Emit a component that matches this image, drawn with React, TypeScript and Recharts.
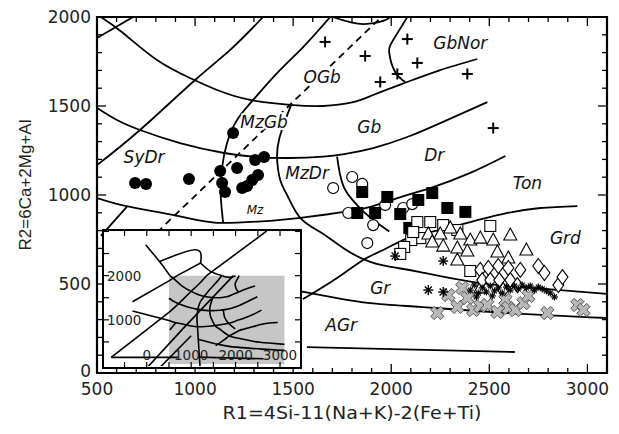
import { ComposedChart, Line, Scatter, XAxis, YAxis, ReferenceArea } from 'recharts'

// boundary curves, [R1, R2]
const curveA = [[520, 2000], [633, 1910], [806, 1758], [974, 1657], [1112, 1590], [1281, 1534], [1485, 1506], [1653, 1500], [1800, 1520], [1908, 1562], [2082, 1635], [2250, 1702], [2439, 1764]]
const curveB = [[500, 1489], [602, 1421], [719, 1365], [923, 1292], [1148, 1236], [1316, 1213], [1485, 1208], [1653, 1216], [1760, 1230], [1908, 1264], [2082, 1326], [2250, 1404], [2490, 1522]]
const curveTon = [[500, 983], [638, 940], [806, 905], [1000, 862], [1143, 843], [1383, 855], [1536, 871], [1724, 899], [1893, 933], [2031, 983], [2199, 1039], [2403, 1124], [2582, 1219]]
const curveMzGb = [[1689, 2000], [1551, 1831], [1418, 1685], [1296, 1534], [1214, 1421], [1163, 1292], [1138, 1157], [1130, 1028], [1135, 930], [1143, 843]]
const dashLine = [[806, 790], [1950, 2000]]
const diagLine = [[500, 1168], [719, 1365], [1000, 1646], [1179, 1815], [1347, 2000]]
const cornerLine = [[500, 1882], [684, 2000]]
const topArc = [[1700, 2000], [1800, 1968], [1877, 1961], [1959, 1978], [1995, 2000]]
const gbNorLine = [[2082, 2000], [2010, 1871], [1990, 1798], [2020, 1691], [2071, 1635]]
const mzDrLine = [[1490, 1506], [1460, 1420], [1430, 1320], [1418, 1213], [1434, 1084], [1469, 1000], [1536, 871], [1638, 792], [1755, 702], [1893, 624], [2031, 590], [2148, 567], [2418, 511], [2750, 475], [3100, 445]]
const drLine = [[1724, 1216], [1738, 1120], [1760, 1040], [1800, 975], [1860, 905], [1920, 850], [1990, 795]]
const grdLine = [[1550, 415], [1724, 534], [1857, 635], [1959, 691], [2082, 758], [2199, 792], [2403, 848], [2592, 899], [2760, 927], [2949, 938]]
const grLine = [[1540, 458], [1724, 421], [1893, 393], [2148, 371], [2592, 337], [3100, 309]]
const agrLine = [[1570, 145], [2630, 118]]
const stubLine = [[520, 770], [653, 935]]

// extra lines only visible in the inset
const insetExtra = [
  [[-800, 150], [500, 1168]],
  [[1347, 2000], [2700, 3010]],
  [[-800, 150], [700, 150]],
  [[-22, 2697], [314, 2285], [520, 2000]],
  [[-321, 1408], [500, 1882]],
  [[684, 2000], [1211, 2285]],
  [[290, 2320], [1099, 2584], [1211, 2285]],
  [[1211, 2285], [1435, 2097], [1700, 2000]],
  [[15, -75], [806, 790]],
  [[300, -75], [1000, 640]],
  [[1143, 843], [1170, 400], [1200, -75]],
  [[-321, 1200], [500, 983]],
  [[1540, 458], [1150, 560]],
  [[1570, 145], [1150, 160]],
]

// samples
const filledCircles = [[694, 1067], [750, 1062], [969, 1090], [1194, 1348], [1128, 1135], [1138, 1067], [1153, 1017], [1214, 1152], [1306, 1197], [1352, 1213], [1321, 1112], [1291, 1084], [1265, 1051], [1240, 1039]]
const plusPts = [[1663, 1860], [2082, 1876], [1867, 1781], [2133, 1742], [1944, 1635], [2031, 1680], [2388, 1680], [2520, 1376]]
const openCircles = [[1704, 1039], [1801, 1101], [1852, 1062], [1781, 899], [1908, 831], [1878, 730], [1969, 944], [2061, 927], [2107, 949]]
const filledSquares = [[1852, 1017], [1827, 899], [1918, 899], [1980, 989], [2046, 893], [2092, 815], [2138, 972], [2209, 1011], [2286, 927], [2378, 905]]
const openSquares = [[2133, 848], [2199, 848], [2265, 831], [2337, 803], [2505, 826], [2148, 758], [2102, 747], [2066, 708], [2046, 669], [2403, 573], [2112, 792]]
const triangles = [[2189, 781], [2250, 781], [2301, 815], [2352, 781], [2403, 747], [2454, 758], [2520, 747], [2607, 775], [2689, 691], [2337, 702], [2388, 685], [2337, 635], [2541, 680], [2597, 646], [2454, 478], [2209, 736], [2265, 713]]
const diamonds = [[2454, 579], [2495, 590], [2546, 601], [2597, 590], [2464, 522], [2505, 522], [2551, 522], [2607, 522], [2643, 494], [2750, 601], [2781, 562], [2852, 494], [2873, 539], [2571, 466], [2658, 579]]
const grayCrosses = [[2235, 337], [2291, 438], [2337, 371], [2362, 478], [2388, 421], [2418, 354], [2454, 376], [2490, 382], [2541, 343], [2582, 410], [2597, 365], [2633, 354], [2674, 393], [2699, 433], [2796, 337], [2949, 382], [2980, 354]]
const bigStars = [[2020, 657], [2265, 629], [2189, 466], [2265, 455]]
const smallStars = [[2403, 466], [2423, 494], [2444, 449], [2464, 478], [2485, 455], [2505, 489], [2526, 461], [2546, 478], [2566, 449], [2587, 483], [2607, 466], [2628, 489], [2648, 472], [2668, 494], [2689, 478], [2709, 489], [2730, 466], [2750, 483], [2770, 472], [2791, 461], [2811, 449], [2832, 427], [2434, 427], [2515, 433]]

const regionLabels = [
  { x: 2352, y: 1854, t: 'GbNor', s: 17 },
  { x: 1648, y: 1663, t: 'OGb', s: 17 },
  { x: 1352, y: 1410, t: 'MzGb', s: 17 },
  { x: 740, y: 1213, t: 'SyDr', s: 17 },
  { x: 1888, y: 1382, t: 'Gb', s: 17 },
  { x: 2219, y: 1225, t: 'Dr', s: 17 },
  { x: 2694, y: 1067, t: 'Ton', s: 17 },
  { x: 1571, y: 1124, t: 'MzDr', s: 17 },
  { x: 1306, y: 916, t: 'Mz', s: 12 },
  { x: 2888, y: 758, t: 'Grd', s: 17 },
  { x: 1944, y: 478, t: 'Gr', s: 17 },
  { x: 1745, y: 270, t: 'AGr', s: 17 },
]

const xTicks = [500, 600, 700, 800, 900, 1000, 1100, 1200, 1300, 1400, 1500, 1600, 1700, 1800, 1900, 2000, 2100, 2200, 2300, 2400, 2500, 2600, 2700, 2800, 2900, 3000, 3100]
const yTicks = [0, 100, 200, 300, 400, 500, 600, 700, 800, 900, 1000, 1100, 1200, 1300, 1400, 1500, 1600, 1700, 1800, 1900, 2000]
const insetXTicks = [-500, 0, 500, 1000, 1500, 2000, 2500, 3000]
const insetYTicks = [500, 1000, 1500, 2000, 2500, 3000]
const insetXLabels = [0, 1000, 2000, 3000]
const insetYLabels = [1000, 2000]

const pts = (a: number[][]) => a.map(([x, y]) => ({ x, y }))

const FONT = '"DejaVu Sans", sans-serif'
const W = 611, H = 426
const PT = 9, PR = 599

const mainLines = [curveA, curveB, curveTon, curveMzGb, diagLine, cornerLine, topArc, gbNorLine, mzDrLine, drLine, grdLine, grLine, agrLine, stubLine]

const XTick = (p: any) => {
  const v = p.payload.value
  const major = v % 500 === 0
  const len = major ? 9 : 5
  return (
    <g>
      <line x1={p.x} x2={p.x} y1={p.y} y2={p.y - len} stroke="#000" strokeWidth={1.3} />
      <line x1={p.x} x2={p.x} y1={PT} y2={PT + len} stroke="#000" strokeWidth={1.3} />
      {major && <text x={p.x} y={p.y + 22} textAnchor="middle" fontSize={17} fontFamily={FONT} fill="#222">{v}</text>}
    </g>
  )
}

const YTick = (p: any) => {
  const v = p.payload.value
  const major = v % 500 === 0
  const len = major ? 9 : 5
  return (
    <g>
      <line x1={p.x} x2={p.x + len} y1={p.y} y2={p.y} stroke="#000" strokeWidth={1.3} />
      <line x1={PR} x2={PR - len} y1={p.y} y2={p.y} stroke="#000" strokeWidth={1.3} />
      {major && <text x={p.x - 6} y={p.y + (v === 0 ? 4 : 6)} textAnchor="end" fontSize={17} fontFamily={FONT} fill="#222">{v}</text>}
    </g>
  )
}

const IW = 196, IH = 136

const InsetXTick = (p: any) => {
  const v = p.payload.value
  const by = IH
  return (
    <g>
      <line x1={p.x} x2={p.x} y1={by} y2={by - 5} stroke="#000" strokeWidth={1.2} />
      <line x1={p.x} x2={p.x} y1={0} y2={5} stroke="#000" strokeWidth={1.2} />
      {insetXLabels.includes(v) && <text x={p.x} y={by - 7} textAnchor="middle" fontSize={13.5} fontFamily={FONT} fill="#222">{v}</text>}
    </g>
  )
}

const InsetYTick = (p: any) => {
  const v = p.payload.value
  return (
    <g>
      <line x1={0} x2={5} y1={p.y} y2={p.y} stroke="#000" strokeWidth={1.2} />
      <line x1={IW} x2={IW - 5} y1={p.y} y2={p.y} stroke="#000" strokeWidth={1.2} />
      {insetYLabels.includes(v) && <text x={3} y={p.y + 5} textAnchor="start" fontSize={13.5} fontFamily={FONT} fill="#222">{v}</text>}
    </g>
  )
}

const dot = (draw: (cx: number, cy: number) => any) => (p: any) => draw(p.cx, p.cy)

const FilledCircle = dot((cx, cy) => <circle cx={cx} cy={cy} r={6} fill="#000" />)
const OpenCircle = dot((cx, cy) => <circle cx={cx} cy={cy} r={5.5} fill="#fff" stroke="#000" strokeWidth={1.2} />)
const Plus = dot((cx, cy) => (
  <g stroke="#000" strokeWidth={2}>
    <line x1={cx - 5.5} x2={cx + 5.5} y1={cy} y2={cy} />
    <line x1={cx} x2={cx} y1={cy - 5.5} y2={cy + 5.5} />
  </g>
))
const FilledSquare = dot((cx, cy) => <rect x={cx - 6} y={cy - 6} width={12} height={12} fill="#000" />)
const OpenSquare = dot((cx, cy) => <rect x={cx - 5.5} y={cy - 5.5} width={11} height={11} fill="#fff" stroke="#000" strokeWidth={1.1} />)
const Triangle = dot((cx, cy) => <polygon points={`${cx},${cy - 7} ${cx + 6.5},${cy + 5} ${cx - 6.5},${cy + 5}`} fill="#fff" stroke="#000" strokeWidth={1.1} />)
const Diamond = dot((cx, cy) => <polygon points={`${cx},${cy - 7.5} ${cx + 5.5},${cy} ${cx},${cy + 7.5} ${cx - 5.5},${cy}`} fill="#fff" stroke="#000" strokeWidth={1.1} />)
const GrayCross = dot((cx, cy) => {
  const w = 2.4, L = 7
  const d = `M${-w},${-L}L${w},${-L}L${w},${-w}L${L},${-w}L${L},${w}L${w},${w}L${w},${L}L${-w},${L}L${-w},${w}L${-L},${w}L${-L},${-w}L${-w},${-w}Z`
  return <path d={d} transform={`translate(${cx},${cy}) rotate(45)`} fill="#b8b8b8" stroke="#444" strokeWidth={0.8} />
})
const star = (r: number, sw: number) => dot((cx, cy) => (
  <g stroke="#000" strokeWidth={sw}>
    <line x1={cx - r} x2={cx + r} y1={cy} y2={cy} />
    <line x1={cx} x2={cx} y1={cy - r} y2={cy + r} />
    <line x1={cx - r * 0.7} x2={cx + r * 0.7} y1={cy - r * 0.7} y2={cy + r * 0.7} />
    <line x1={cx - r * 0.7} x2={cx + r * 0.7} y1={cy + r * 0.7} y2={cy - r * 0.7} />
  </g>
))
const BigStar = star(5, 1.4)
const SmallStar = star(3.5, 1.2)

// white halo so the boundary lines pass behind the field names
const RegionLabel = (p: any) => (
  <text x={p.cx} y={p.cy} textAnchor="middle" dominantBaseline="central" fontStyle="italic" fontSize={p.payload.s} fontFamily={FONT} fill="#111" stroke="#fff" strokeWidth={4} paintOrder="stroke" strokeLinejoin="round">{p.payload.t}</text>
)

const Inset = () => (
  <ComposedChart width={IW} height={IH} margin={{ top: 0, right: 0, bottom: 0, left: 0 }}>
    <XAxis type="number" dataKey="x" domain={[-940, 3450]} ticks={insetXTicks} interval={0} height={1} tickSize={0} tickMargin={0} axisLine={false} tickLine={false} tick={InsetXTick} allowDataOverflow />
    <YAxis type="number" dataKey="y" domain={[-45, 3010]} ticks={insetYTicks} interval={0} width={1} tickSize={0} tickMargin={0} axisLine={false} tickLine={false} tick={InsetYTick} allowDataOverflow />
    <ReferenceArea x1={500} x2={3100} y1={0} y2={2000} fill="#c6c6c6" fillOpacity={1} stroke="none" />
    {[...mainLines, dashLine, ...insetExtra].map((l, i) => (
      <Line key={i} data={pts(l)} dataKey="y" type="natural" stroke="#000" strokeWidth={1.6} dot={false} activeDot={false} isAnimationActive={false} />
    ))}
  </ComposedChart>
)

const App = () => (
  <div style={{ position: 'relative', width: W, height: H, fontFamily: FONT }}>
    <ComposedChart width={W} height={H} margin={{ top: PT, right: W - PR, bottom: 0, left: 0 }}>
      <XAxis type="number" dataKey="x" domain={[500, 3100]} ticks={xTicks} interval={0} height={61} tickSize={0} tickMargin={0} axisLine={false} tickLine={false} tick={XTick} allowDataOverflow />
      <YAxis type="number" dataKey="y" domain={[0, 2000]} ticks={yTicks} interval={0} width={89} tickSize={0} tickMargin={0} axisLine={false} tickLine={false} tick={YTick} allowDataOverflow />
      <ReferenceArea x1={500} x2={3100} y1={0} y2={2000} fill="none" stroke="#000" strokeWidth={2.2} />
      {mainLines.map((l, i) => (
        <Line key={i} data={pts(l)} dataKey="y" type="natural" stroke="#000" strokeWidth={1.8} dot={false} activeDot={false} isAnimationActive={false} />
      ))}
      <Line data={pts(dashLine)} dataKey="y" type="linear" stroke="#000" strokeWidth={1.8} strokeDasharray="7 5" dot={false} activeDot={false} isAnimationActive={false} />
      <Scatter data={regionLabels} shape={RegionLabel} isAnimationActive={false} />
      <Scatter data={pts(filledCircles)} shape={FilledCircle} isAnimationActive={false} />
      <Scatter data={pts(plusPts)} shape={Plus} isAnimationActive={false} />
      <Scatter data={pts(openCircles)} shape={OpenCircle} isAnimationActive={false} />
      <Scatter data={pts(filledSquares)} shape={FilledSquare} isAnimationActive={false} />
      <Scatter data={pts(openSquares)} shape={OpenSquare} isAnimationActive={false} />
      <Scatter data={pts(triangles)} shape={Triangle} isAnimationActive={false} />
      <Scatter data={pts(diamonds)} shape={Diamond} isAnimationActive={false} />
      <Scatter data={pts(grayCrosses)} shape={GrayCross} isAnimationActive={false} />
      <Scatter data={pts(bigStars)} shape={BigStar} isAnimationActive={false} />
      <Scatter data={pts(smallStars)} shape={SmallStar} isAnimationActive={false} />
    </ComposedChart>
    <div style={{ position: 'absolute', left: 94, top: 221, width: 200, height: 140, boxSizing: 'border-box', border: '2px solid #000', background: '#fff' }}>
      <Inset />
    </div>
    <div style={{ position: 'absolute', left: 17, top: 177, transform: 'translate(-50%, -50%) rotate(-90deg)', whiteSpace: 'nowrap', fontFamily: '"Liberation Sans", Arial, sans-serif', fontSize: 17, lineHeight: 1, color: '#222' }}>
      R2=6Ca+2Mg+Al
    </div>
    <div style={{ position: 'absolute', left: 344, top: 405, transform: 'translate(-50%, -50%) scaleX(1.12)', whiteSpace: 'nowrap', fontSize: 17, lineHeight: 1, color: '#222' }}>
      R1=4Si-11(Na+K)-2(Fe+Ti)
    </div>
  </div>
)

export default App
